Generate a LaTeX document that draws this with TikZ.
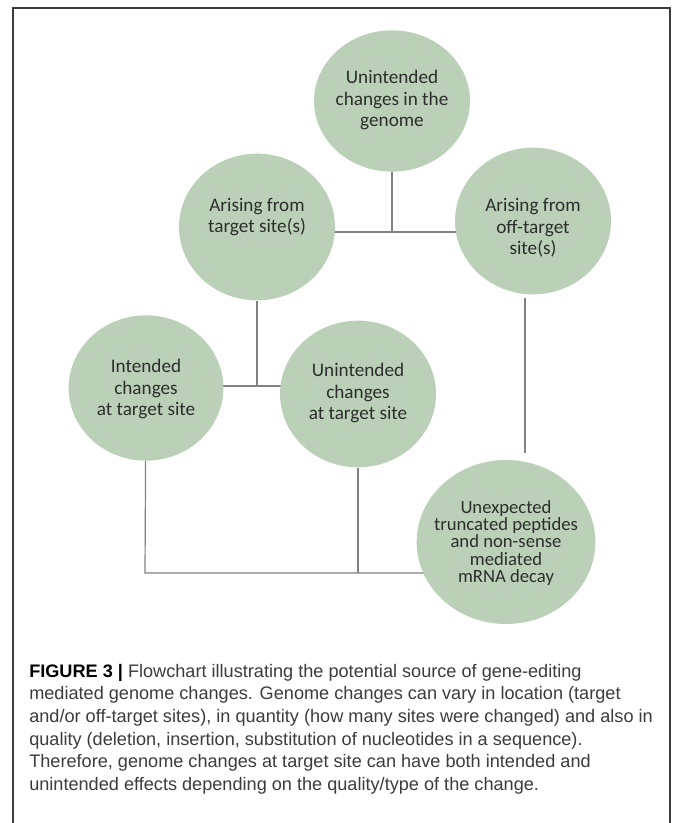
\documentclass[tikz,border=0pt]{standalone}
\usepackage{fontspec}
\setmainfont{Carlito}
\newfontfamily\capfont{Liberation Sans}
\usetikzlibrary{shapes.geometric}
\pgfdeclarelayer{background}
\pgfsetlayers{background,main}
\definecolor{bubble}{RGB}{186,209,184}
\definecolor{linegray}{RGB}{130,130,130}
\definecolor{txt}{RGB}{45,45,45}
\definecolor{captxt}{RGB}{60,60,60}
\definecolor{frame}{RGB}{60,60,60}
\begin{document}
\begin{tikzpicture}[x=0.75pt,y=-0.75pt,
  bub/.style={ellipse, fill=bubble, draw=none, inner sep=0pt},
  lbl/.style={align=center, inner sep=0pt, text=txt, font=\fontsize{14.4}{16.2}\selectfont},
  conn/.style={draw=linegray, line width=0.9pt},
]
\useasboundingbox (0,0) rectangle (672,823);

% bubbles
\node[bub, minimum width=117pt, minimum height=106pt] (top) at (392,101) {};
\node[lbl] (topt) at (392,100) {Unintended\\changes in the\\genome};

\node[bub, minimum width=117pt, minimum height=110pt] (arT) at (257,227) {};
\node[lbl] (arTt) at (257,217) {Arising from\\target site(s)};

\node[bub, minimum width=117pt, minimum height=110pt] (arO) at (533,221) {};
\node[lbl] (arOt) at (533,228) {Arising from\\off-target\\site(s)};

\node[bub, minimum width=116pt, minimum height=109pt] (int) at (146,388) {};
\node[lbl] (intt) at (146,389) {Intended\\changes\\at target site};

\node[bub, minimum width=117pt, minimum height=110pt] (unt) at (358,394) {};
\node[lbl] (untt) at (358,393) {Unintended\\changes\\at target site};

\node[bub, minimum width=134pt, minimum height=123pt] (unex) at (506,542) {};
\node[lbl, font=\fontsize{14}{13.1}\selectfont] (unext) at (506,543) {Unexpected\\truncated peptides\\and non-sense\\mediated\\mRNA decay};

% junction coordinates
\coordinate (j1) at (392,232);
\coordinate (j2) at (257,386);
\coordinate (j3) at (145,573);
\coordinate (c1) at (525,298);
\coordinate (c2) at (525,453);

\begin{pgfonlayer}{background}
\fill[white] (0,0) rectangle (672,823);
\draw[line width=1.2pt, frame] (13,823) -- (13,8) -- (670,8) -- (670,823);
\draw[conn] (top) -- (j1);
\draw[conn] (arT.center |- j1) -- (arO.center |- j1);
\draw[conn] (arT) -- (j2);
\draw[conn] (int.center |- j2) -- (unt.center |- j2);
\draw[conn] (c1) -- (c2);
\draw[conn] (int) -- (j3) -- (unex.center |- j3);
\draw[conn] (unt) -- (unt |- j3);
\end{pgfonlayer}

% caption
\node[anchor=north west, inner sep=0pt, align=left, text=captxt,
      font=\capfont\fontsize{13.6}{16.9}\selectfont] (cap) at (29,664)
{{\bfseries\color{black}FIGURE 3 |} Flowchart illustrating the potential source of gene-editing\\
mediated genome changes. Genome changes can vary in location (target\\
and/or off-target sites), in quantity (how many sites were changed) and also in\\
quality (deletion, insertion, substitution of nucleotides in a sequence).\\
Therefore, genome changes at target site can have both intended and\\
unintended effects depending on the quality/type of the change.};
\end{tikzpicture}
\end{document}
